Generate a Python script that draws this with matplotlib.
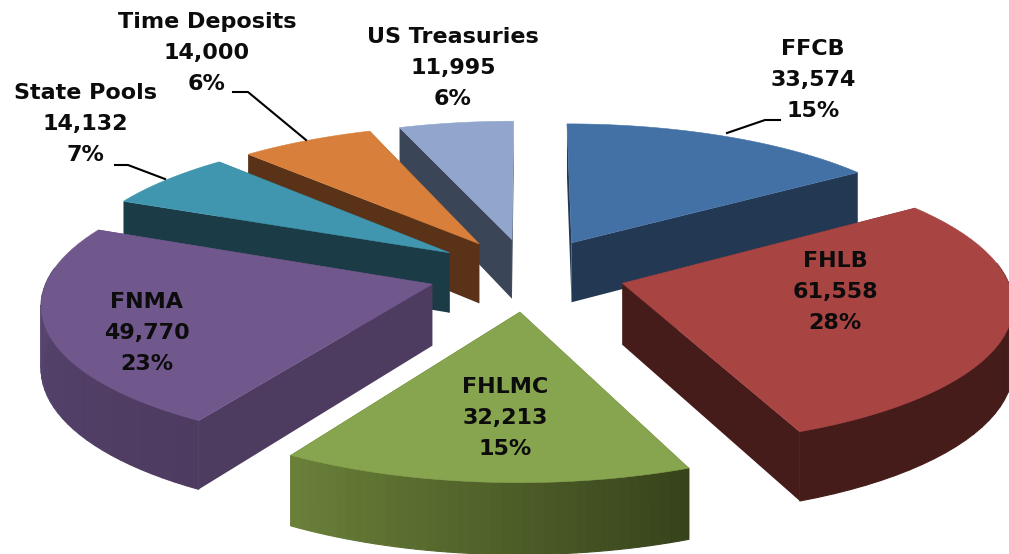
import numpy as np
import matplotlib
matplotlib.use("Agg")
import matplotlib.pyplot as plt
from matplotlib.patches import Polygon
from matplotlib.colors import to_rgb

names = ["FFCB", "FHLB", "FHLMC", "FNMA", "State Pools", "Time Deposits", "US Treasuries"]
values = [33574, 61558, 32213, 49770, 14132, 14000, 11995]
top_colors = ["#4371a5", "#a84442", "#87a44f", "#70578c", "#4096ae", "#d8803b", "#91a5cd"]
wall_colors = ["#233953", "#451c19", "#6a8039", "#5a4775", "#1b3b47", "#593217", "#3a4558"]
wall_dark = ["#233953", "#451c19", "#37431b", "#4e3b60", "#1b3b47", "#593217", "#3a4558"]
explode = [0.25, 0.255, 0.27, 0.26, 0.255, 0.25, 0.25]

label_pos = [(813, 80), (835, 292), (505, 418), (147, 333), (85, 124), (207, 53), (453, 68)]
leaders = [
    [(727, 133), (765, 120), (780, 120)],
    [(233, 92), (248, 92), (306, 140)],
    [(115, 165), (128, 165), (165, 179)],
]

# fake 3d settings, picked by eye
CX, CY = 528, 273
R, SQUASH, PERSP, DEPTH = 383, 140, 0.12, 61


def project(x, y, z=0):
    w = 1 + PERSP * y
    return CX + R * x / w, CY - SQUASH * y / w + DEPTH * z / w


total = sum(values)
edges = np.cumsum([0] + values) / total * 2 * np.pi

fig = plt.figure(figsize=(10.09, 5.54), dpi=100)
ax = fig.add_axes([0, 0, 1, 1])
ax.set_xlim(0, 1009)
ax.set_ylim(554, 0)
ax.axis("off")

mids = (edges[:-1] + edges[1:]) / 2
# painter's order, back wedges first
order = np.argsort(-np.cos(mids))

for i in order:
    a0, a1 = edges[i], edges[i + 1]
    ox, oy = explode[i] * np.sin(mids[i]), explode[i] * np.cos(mids[i])
    th = np.linspace(a0, a1, 40)
    xs, ys = ox + np.sin(th), oy + np.cos(th)
    top = [project(ox, oy)] + [project(x, y) for x, y in zip(xs, ys)]
    # radial walls
    for x, y in [(xs[0], ys[0]), (xs[-1], ys[-1])]:
        wall = [project(ox, oy), project(x, y), project(x, y, 1), project(ox, oy, 1)]
        ax.add_patch(Polygon(wall, fc=wall_dark[i], ec="none"))
    # outer wall, shaded along the arc, only the part facing us
    c0, c1 = np.array(to_rgb(wall_colors[i])), np.array(to_rgb(wall_dark[i]))
    for j in range(len(th) - 1):
        if np.cos(th[j]) > 0.1 and np.cos(th[j + 1]) > 0.1:
            continue
        t = j / (len(th) - 2)
        quad = [project(xs[j], ys[j]), project(xs[j + 1], ys[j + 1]),
                project(xs[j + 1], ys[j + 1], 1), project(xs[j], ys[j], 1)]
        c = c1 * (1 - t) + c0 * t
        ax.add_patch(Polygon(quad, fc=c, ec=c, lw=0.8))
    ax.add_patch(Polygon(top, fc=top_colors[i], ec=top_colors[i], lw=0.4))

for name, val, (x, y) in zip(names, values, label_pos):
    pct = round(val / total * 100)
    ax.text(x, y, f"{name}\n{val:,}\n{pct}%", ha="center", va="center", fontsize=16,
            family="DejaVu Sans", weight="bold", color="#0c0c0c", linespacing=1.68, zorder=5)

for pts in leaders:
    ax.plot([p[0] for p in pts], [p[1] for p in pts], color="black", lw=1.5, zorder=4)

fig.savefig("out.png", dpi=100)
